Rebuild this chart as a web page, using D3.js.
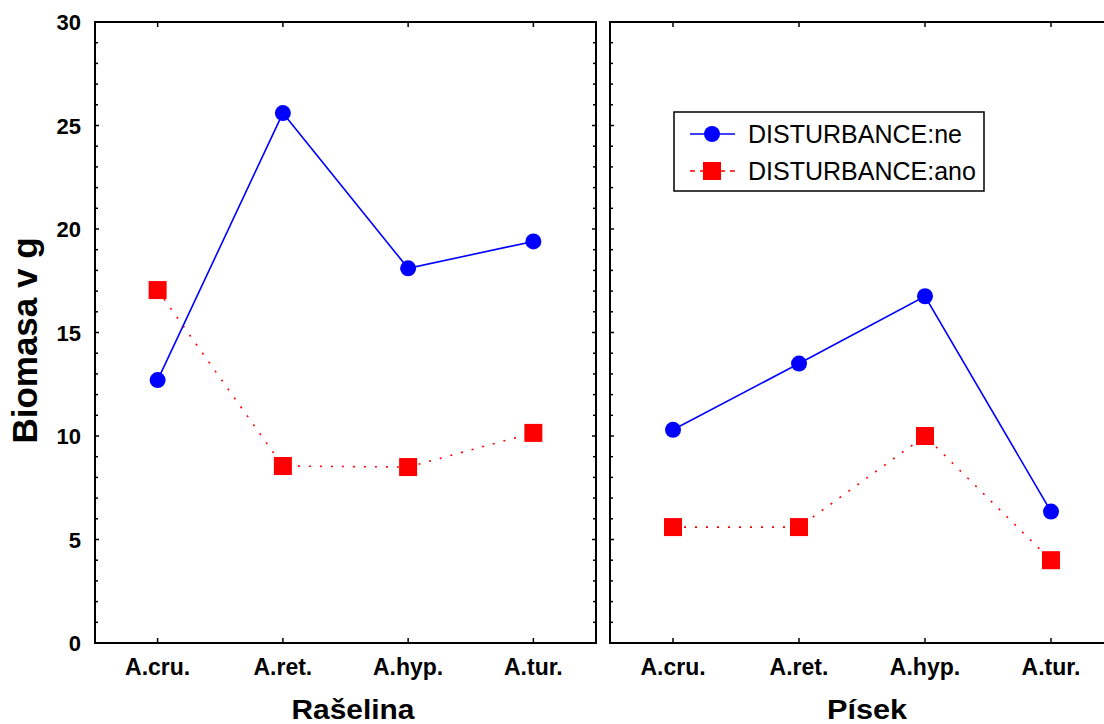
<!DOCTYPE html>
<html>
<head>
<meta charset="utf-8">
<script src="https://cdn.jsdelivr.net/npm/d3@7"></script>
<style>
  body { margin: 0; background: #fff; }
  svg { display: block; font-family: Arial, "Liberation Sans", sans-serif; }
</style>
</head>
<body>
<svg id="chart" width="1104" height="724"></svg>
<script>
var categories = ['A.cru.', 'A.ret.', 'A.hyp.', 'A.tur.'];
var panels = ['Rašelina', 'Písek'];
var seriesNames = ['DISTURBANCE:ne', 'DISTURBANCE:ano'];
var yTicks = [0, 5, 10, 15, 20, 25, 30];

// values per panel
var raselinaNe = [12.7, 25.6, 18.1, 19.4];
var raselinaAno = [17.05, 8.55, 8.5, 10.15];
var pisekNe = [10.3, 13.5, 16.75, 6.35];
var pisekAno = [5.6, 5.6, 10.0, 4.0];

var panelData = [
  [raselinaNe, raselinaAno],
  [pisekNe, pisekAno]
];

var seriesStyle = [
  {color: '#0000ff', dash: null, shape: 'circle'},
  {color: '#ff0000', dash: '2,9', shape: 'square'}
];

var svg = d3.select('#chart');
var plotTop = 22, plotBottom = 643;
var panelX = [[95, 596], [610, 1114]];
var titleX = [353, 867];
var titleLen = [123, 80];

var y = d3.scaleLinear().domain([0, 30]).range([plotBottom, plotTop]);
var minorTicks = d3.range(0, 31, 1);

panelX.forEach(function(px, p) {
  var x = d3.scalePoint().domain(categories).range(px).padding(0.5);
  var g = svg.append('g');

  // frame
  g.append('rect')
    .attr('x', px[0]).attr('y', plotTop)
    .attr('width', px[1] - px[0]).attr('height', plotBottom - plotTop)
    .attr('fill', 'none').attr('stroke', '#000').attr('stroke-width', 2);

  // y ticks inside left and right edges
  [px[0], px[1]].forEach(function(ex, side) {
    var dir = side === 0 ? 1 : -1;
    g.selectAll(null).data(minorTicks).enter().append('line')
      .attr('x1', ex - dir * 1).attr('x2', function(d) { return ex + dir * (d % 5 === 0 ? 4 : 3); })
      .attr('y1', function(d) { return y(d); }).attr('y2', function(d) { return y(d); })
      .attr('stroke', '#000').attr('stroke-width', 1.5);
  });

  // x ticks top and bottom
  g.selectAll(null).data(categories).enter().append('line')
    .attr('x1', function(d) { return x(d); }).attr('x2', function(d) { return x(d); })
    .attr('y1', plotBottom).attr('y2', plotBottom - 5)
    .attr('stroke', '#000').attr('stroke-width', 1.5);
  g.selectAll(null).data(categories).enter().append('line')
    .attr('x1', function(d) { return x(d); }).attr('x2', function(d) { return x(d); })
    .attr('y1', plotTop).attr('y2', plotTop + 5)
    .attr('stroke', '#000').attr('stroke-width', 1.5);

  // category labels
  g.selectAll(null).data(categories).enter().append('text')
    .attr('x', function(d) { return x(d); }).attr('y', 675)
    .attr('text-anchor', 'middle')
    .style('font-size', '23px').style('font-weight', 'bold')
    .text(function(d) { return d; });

  // panel title
  g.append('text')
    .attr('x', titleX[p]).attr('y', 719)
    .attr('text-anchor', 'middle')
    .attr('textLength', titleLen[p]).attr('lengthAdjust', 'spacingAndGlyphs')
    .style('font-size', '27px').style('font-weight', 'bold')
    .text(panels[p]);

  // series, red drawn first so blue sits on top
  var line = d3.line().x(function(d, i) { return x(categories[i]); }).y(function(d) { return y(d); });
  [1, 0].forEach(function(si) {
    var vals = panelData[p][si];
    var s = seriesStyle[si];
    g.append('path').datum(vals)
      .attr('d', line).attr('fill', 'none')
      .attr('stroke', s.color).attr('stroke-width', 1.6)
      .attr('stroke-dasharray', s.dash);
    if (s.shape === 'circle') {
      g.selectAll(null).data(vals).enter().append('circle')
        .attr('cx', function(d, i) { return x(categories[i]); })
        .attr('cy', function(d) { return y(d); })
        .attr('r', 8).attr('fill', s.color);
    } else {
      g.selectAll(null).data(vals).enter().append('rect')
        .attr('x', function(d, i) { return x(categories[i]) - 9; })
        .attr('y', function(d) { return y(d) - 9; })
        .attr('width', 18).attr('height', 18).attr('fill', s.color);
    }
  });
});

// y tick labels
svg.selectAll(null).data(yTicks).enter().append('text')
  .attr('x', 81).attr('y', function(d) { return y(d) + 8; })
  .attr('text-anchor', 'end')
  .style('font-size', '22px').style('font-weight', 'bold')
  .text(function(d) { return d; });

// y axis title
svg.append('text')
  .attr('transform', 'translate(37,' + ((plotTop + plotBottom) / 2 + 8) + ') rotate(-90)')
  .attr('text-anchor', 'middle')
  .style('font-size', '35px').style('font-weight', 'bold')
  .text('Biomasa v g');

// legend
var legend = svg.append('g');
legend.append('rect')
  .attr('x', 674).attr('y', 112).attr('width', 310).attr('height', 79)
  .attr('fill', '#fff').attr('stroke', '#000').attr('stroke-width', 1.5);
seriesNames.forEach(function(name, i) {
  var s = seriesStyle[i];
  var ly = 134 + i * 37;
  legend.append('line')
    .attr('x1', 690).attr('x2', 735).attr('y1', ly).attr('y2', ly)
    .attr('stroke', s.color).attr('stroke-width', 1.6)
    .attr('stroke-dasharray', s.dash ? '5,5' : null);
  if (s.shape === 'circle') {
    legend.append('circle').attr('cx', 712).attr('cy', ly).attr('r', 8).attr('fill', s.color);
  } else {
    legend.append('rect').attr('x', 703).attr('y', ly - 9).attr('width', 18).attr('height', 18).attr('fill', s.color);
  }
  legend.append('text')
    .attr('x', 748).attr('y', ly + 9)
    .style('font-size', '25px')
    .text(name);
});
</script>
</body>
</html>
